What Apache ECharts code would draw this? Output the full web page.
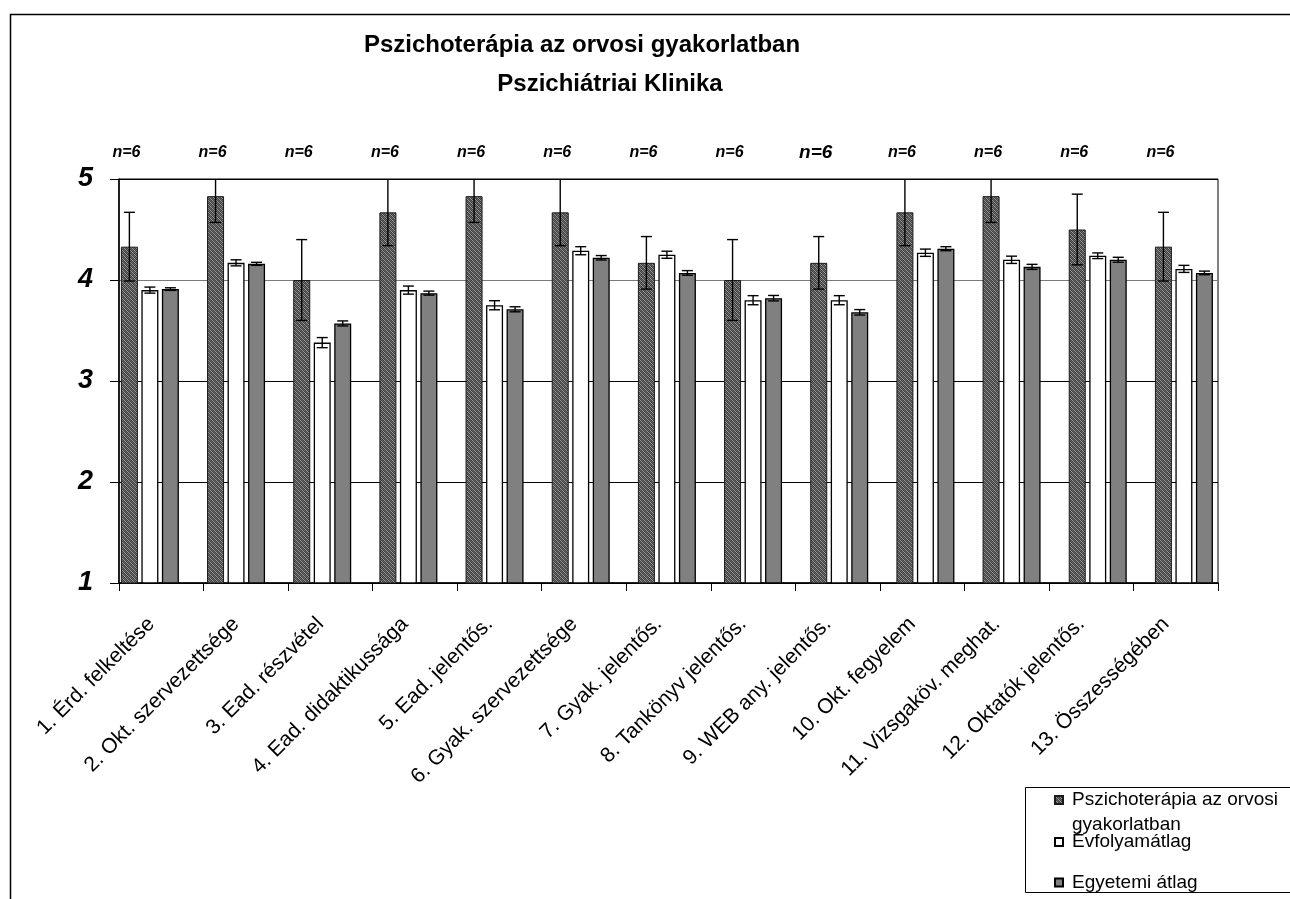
<!DOCTYPE html>
<html>
<head>
<meta charset="utf-8">
<script src="https://cdn.jsdelivr.net/npm/echarts@6.0.0/dist/echarts.min.js"></script>
<style>
  html, body { margin: 0; padding: 0; background: #fff; }
  #chart { width: 1290px; height: 899px; }
</style>
</head>
<body>
<div id="chart"></div>
<script>
const categories = [
  "1. Érd. felkeltése",
  "2. Okt. szervezettsége",
  "3. Ead. részvétel",
  "4. Ead. didaktikussága",
  "5. Ead. jelentős.",
  "6. Gyak. szervezettsége",
  "7. Gyak. jelentős.",
  "8. Tankönyv jelentős.",
  "9. WEB any. jelentős.",
  "10. Okt. fegyelem",
  "11. Vizsgaköv. meghat.",
  "12. Oktatók jelentős.",
  "13. Összességében",
];
const seriesNames = ["Pszichoterápia az orvosi gyakorlatban", "Évfolyamátlag", "Egyetemi átlag"];
const clinicValues = [4.33, 4.83, 4.0, 4.67, 4.83, 4.67, 4.17, 4.0, 4.17, 4.67, 4.83, 4.5, 4.33];
const clinicErrors = [0.34, 0.26, 0.4, 0.33, 0.26, 0.33, 0.26, 0.4, 0.26, 0.33, 0.26, 0.35, 0.34];
const yearValues = [3.9, 4.17, 3.38, 3.9, 3.75, 4.29, 4.25, 3.8, 3.8, 4.27, 4.2, 4.24, 4.11];
const yearErrors = [0.03, 0.03, 0.05, 0.04, 0.045, 0.04, 0.035, 0.045, 0.045, 0.036, 0.036, 0.028, 0.035];
const uniValues = [3.91, 4.16, 3.57, 3.87, 3.71, 4.22, 4.07, 3.82, 3.68, 4.31, 4.13, 4.2, 4.07];
const uniErrors = [0.013, 0.015, 0.025, 0.02, 0.025, 0.022, 0.023, 0.027, 0.027, 0.02, 0.025, 0.025, 0.018];
const nLabels = ["n=6", "n=6", "n=6", "n=6", "n=6", "n=6", "n=6", "n=6", "n=6", "n=6", "n=6", "n=6", "n=6"];
const yTicks = [1, 2, 3, 4, 5];

const Y_MIN = 1;
const Y_MAX = 5;
const FONT = "'Liberation Sans', Arial, sans-serif";
const BAR_W = 17;
const BAR_GAP = 3.5;
const OFFSETS = [-(BAR_W + BAR_GAP), 0, BAR_W + BAR_GAP];
const BIG_N_LABEL = 8; // the 9th label is typed larger in the original

function hatchPattern() {
  const c = document.createElement("canvas");
  c.width = 4;
  c.height = 4;
  const ctx = c.getContext("2d");
  ctx.fillStyle = "#3e3e3e";
  ctx.fillRect(0, 0, 4, 4);
  ctx.fillStyle = "#9a9a9a";
  for (let i = 0; i < 4; i++) ctx.fillRect(i, i, 1, 1);
  ctx.fillStyle = "#6a6a6a";
  for (let i = 0; i < 4; i++) ctx.fillRect((i + 2) % 4, i, 1, 1);
  return c;
}
const hatch = { image: hatchPattern(), repeat: "repeat" };

function errorSeries(values, errors, slot) {
  return {
    type: "custom",
    xAxisIndex: 1,
    yAxisIndex: 1,
    z: 5,
    silent: true,
    encode: { x: 0, y: 1 },
    data: values.map((v, i) => [i, v, errors[i]]),
    renderItem: (params, api) => {
      const i = api.value(0);
      const mean = api.value(1);
      const err = api.value(2);
      const hi = Math.min(mean + err, Y_MAX);
      const x = api.coord([i, mean])[0] + OFFSETS[slot];
      const yHi = api.coord([i, hi])[1];
      const yLo = api.coord([i, mean - err])[1];
      const style = { stroke: "#000", lineWidth: 1.4 };
      const cap = 5.5;
      const children = [
        { type: "line", shape: { x1: x, y1: yHi, x2: x, y2: yLo }, style },
        { type: "line", shape: { x1: x - cap, y1: yLo, x2: x + cap, y2: yLo }, style },
      ];
      if (hi < Y_MAX) {
        children.push({ type: "line", shape: { x1: x - cap, y1: yHi, x2: x + cap, y2: yHi }, style });
      }
      return { type: "group", children };
    },
  };
}

const chart = echarts.init(document.getElementById("chart"), null, { renderer: "canvas" });

const plot = { left: 119, top: 179, width: 1099, height: 404 };
const barPlot = { left: 106.8, top: 179, width: 1120.2, height: 404 };
const legendText = { fontSize: 19, fontFamily: FONT, color: "#000", lineHeight: 25, padding: [0, 0, 0, 4] };

const option = {
  animation: false,
  backgroundColor: "#fff",
  textStyle: { fontFamily: FONT },
  graphic: [
    {
      type: "rect",
      z: -10,
      silent: true,
      shape: { x: 10.5, y: 14.5, width: 1400, height: 1000 },
      style: { fill: "#fff", stroke: "#000", lineWidth: 1.5 },
    },
    {
      type: "rect",
      z: -5,
      silent: true,
      shape: { x: 1025.5, y: 787.5, width: 400, height: 105 },
      style: { fill: "#fff", stroke: "#000", lineWidth: 1 },
    },
    {
      type: "text",
      x: 582,
      y: 45,
      style: { text: "Pszichoterápia az orvosi gyakorlatban", font: "bold 24px " + FONT, fill: "#000", align: "center", verticalAlign: "middle" },
    },
    {
      type: "text",
      x: 610,
      y: 84,
      style: { text: "Pszichiátriai Klinika", font: "bold 24px " + FONT, fill: "#000", align: "center", verticalAlign: "middle" },
    },
  ],
  legend: [
    {
      data: [seriesNames[0]],
      left: 1054,
      top: 762.5,
      padding: 0,
      itemWidth: 8,
      itemHeight: 8,
      icon: "rect",
      selectedMode: false,
      // blank first line keeps the icon level with the first text line
      formatter: () => " \nPszichoterápia az orvosi\ngyakorlatban",
      textStyle: legendText,
    },
    {
      data: [seriesNames[1]],
      left: 1054,
      top: 829.5,
      padding: 0,
      itemWidth: 8,
      itemHeight: 8,
      icon: "rect",
      selectedMode: false,
      textStyle: legendText,
    },
    {
      data: [seriesNames[2]],
      left: 1054,
      top: 870,
      padding: 0,
      itemWidth: 8,
      itemHeight: 8,
      icon: "rect",
      selectedMode: false,
      textStyle: legendText,
    },
  ],
  grid: [
    { ...plot, show: true, borderColor: "#000", borderWidth: 1, backgroundColor: "transparent" },
    { ...barPlot, show: false },
  ],
  xAxis: [
    {
      type: "category",
      gridIndex: 0,
      data: categories,
      axisLine: { lineStyle: { color: "#000", width: 1.5 } },
      axisTick: { show: true, length: 8, lineStyle: { color: "#000" } },
      axisLabel: { interval: 0, rotate: 45, margin: 28, padding: [0, 14, 0, 0], fontSize: 21, fontFamily: FONT, color: "#000" },
      splitLine: { show: false },
    },
    { type: "category", gridIndex: 1, data: categories, show: false },
  ],
  yAxis: [
    {
      type: "value",
      gridIndex: 0,
      min: Y_MIN,
      max: Y_MAX,
      interval: 1,
      axisLine: { show: true, lineStyle: { color: "#000", width: 1.5 } },
      axisTick: { show: true, length: 9, lineStyle: { color: "#000" } },
      axisLabel: {
        margin: 26,
        fontSize: 27,
        fontWeight: "bold",
        fontStyle: "italic",
        fontFamily: FONT,
        color: "#000",
        customValues: yTicks,
      },
      splitLine: { show: true, lineStyle: { color: ["#000", "#000", "#000", "#7a7a7a", "#000"], width: 1.2 } },
    },
    { type: "value", gridIndex: 1, min: Y_MIN, max: Y_MAX, interval: 1, show: false, splitLine: { show: false } },
  ],
  series: [
    {
      name: seriesNames[0],
      type: "bar",
      xAxisIndex: 1,
      yAxisIndex: 1,
      barWidth: BAR_W,
      barGap: (BAR_GAP / BAR_W) * 100 + "%",
      data: clinicValues,
      itemStyle: { color: hatch, borderColor: "#1a1a1a", borderWidth: 1 },
      emphasis: { disabled: true },
    },
    {
      name: seriesNames[1],
      type: "bar",
      xAxisIndex: 1,
      yAxisIndex: 1,
      barWidth: BAR_W,
      data: yearValues,
      itemStyle: { color: "#fff", borderColor: "#000", borderWidth: 1.3 },
      emphasis: { disabled: true },
    },
    {
      name: seriesNames[2],
      type: "bar",
      xAxisIndex: 1,
      yAxisIndex: 1,
      barWidth: BAR_W,
      data: uniValues,
      itemStyle: { color: "#808080", borderColor: "#000", borderWidth: 1.3 },
      emphasis: { disabled: true },
    },
    errorSeries(clinicValues, clinicErrors, 0),
    errorSeries(yearValues, yearErrors, 1),
    errorSeries(uniValues, uniErrors, 2),
    {
      type: "custom",
      xAxisIndex: 1,
      yAxisIndex: 1,
      silent: true,
      z: 6,
      encode: { x: 0, y: 1 },
      data: nLabels.map((t, i) => [i, Y_MAX]),
      renderItem: (params, api) => {
        const i = api.value(0);
        const p = api.coord([i, Y_MAX]);
        const size = i === BIG_N_LABEL ? 19 : 16;
        return {
          type: "text",
          x: p[0] + OFFSETS[0] - 3,
          y: p[1] - 26,
          style: {
            text: nLabels[i],
            font: "italic bold " + size + "px " + FONT,
            fill: "#000",
            align: "center",
            verticalAlign: "middle",
          },
        };
      },
    },
  ],
};

chart.setOption(option);
</script>
</body>
</html>
